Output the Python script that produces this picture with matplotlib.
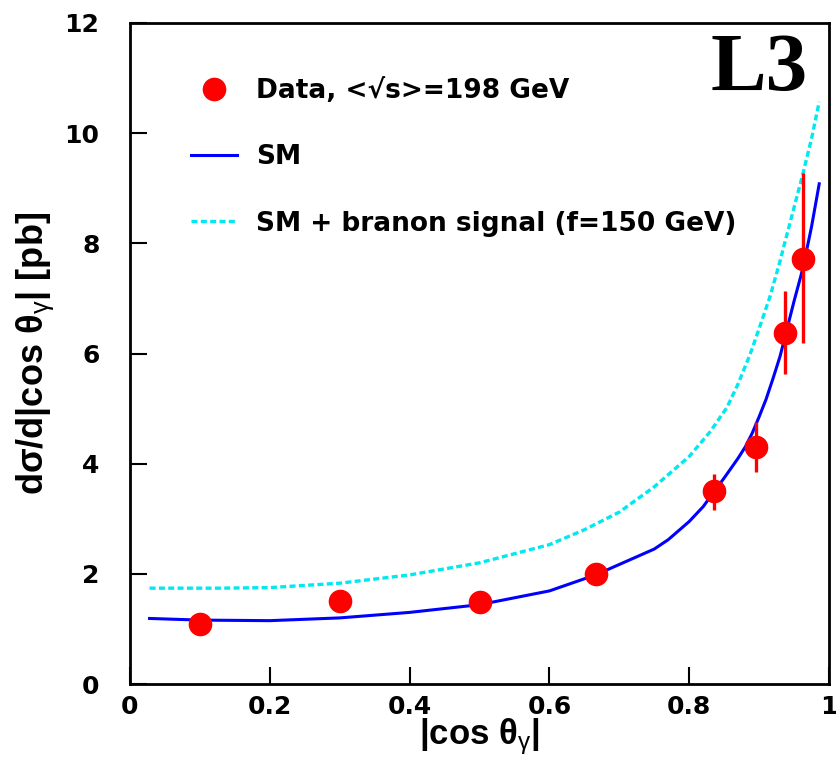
import numpy as np
import matplotlib
matplotlib.use('Agg')
import matplotlib.pyplot as plt

# data points
cos_theta = [0.100, 0.300, 0.500, 0.666, 0.836, 0.896, 0.937, 0.963]
dsigma = [1.09, 1.51, 1.48, 1.99, 3.50, 4.30, 6.38, 7.72]
err_low = [0.12, 0.15, 0.15, 0.18, 0.34, 0.45, 0.75, 1.53]
err_high = [0.12, 0.15, 0.15, 0.18, 0.32, 0.46, 0.75, 1.55]

# SM prediction
sm_x = [0.028, 0.1, 0.2, 0.3, 0.4, 0.5, 0.6, 0.666, 0.7, 0.75, 0.77, 0.8, 0.82,
        0.836, 0.85, 0.87, 0.88, 0.89, 0.9, 0.91, 0.92, 0.93, 0.937, 0.95,
        0.96, 0.966, 0.975, 0.986]
sm_y = [1.19, 1.16, 1.15, 1.20, 1.30, 1.44, 1.69, 1.98, 2.17, 2.45, 2.62, 2.95, 3.22,
        3.50, 3.74, 4.10, 4.30, 4.55, 4.85, 5.17, 5.55, 5.95, 6.30, 6.95,
        7.42, 7.75, 8.30, 9.08]

# SM + branon signal (f=150 GeV)
br_x = [0.028, 0.129, 0.2, 0.3, 0.4, 0.5, 0.6, 0.65, 0.7, 0.75, 0.8, 0.83,
        0.854, 0.87, 0.887, 0.9, 0.916, 0.93, 0.939, 0.95, 0.963, 0.975, 0.986]
br_y = [1.74, 1.74, 1.75, 1.83, 1.98, 2.20, 2.53, 2.80, 3.12, 3.58, 4.13, 4.58,
        5.02, 5.45, 5.98, 6.45, 7.05, 7.68, 8.12, 8.65, 9.28, 9.90, 10.57]

x_ticks = [0, 0.2, 0.4, 0.6, 0.8, 1]
x_ticklabels = ['0', '0.2', '0.4', '0.6', '0.8', '1']
y_ticks = [0, 2, 4, 6, 8, 10, 12]

plt.rcParams['mathtext.fontset'] = 'custom'
plt.rcParams['mathtext.rm'] = 'Liberation Sans'
plt.rcParams['mathtext.it'] = 'Liberation Sans'
plt.rcParams['mathtext.bf'] = 'Liberation Sans:bold'

fig = plt.figure(figsize=(8.36, 7.6), dpi=100)
ax = fig.add_axes([130 / 836, 1 - 684 / 760, 699 / 836, 661 / 760])

ax.plot(sm_x, sm_y, color='#0000ff', lw=2.2, label='SM', zorder=2)
ax.plot(br_x, br_y, color='#00e8f0', lw=2.4, linestyle=(0, (1.8, 1.0)),
        label='SM + branon signal (f=150 GeV)', zorder=2)
ax.errorbar(cos_theta, dsigma, yerr=[err_low, err_high], fmt='none',
            ecolor='#ff0000', elinewidth=2.4, capsize=0, zorder=3)
ax.plot(cos_theta, dsigma, 'o', color='#ff0000', ms=16, zorder=4,
        label='Data, <√s>=198 GeV')

ax.set_xlim(0, 1)
ax.set_ylim(0, 12)
ax.set_xticks(x_ticks)
ax.set_xticklabels(x_ticklabels)
ax.set_yticks(y_ticks)
ax.tick_params(direction='in', length=12.2, width=1.5, top=False, right=False,
               labelsize=18)
ax.tick_params(axis='x', pad=8)
ax.tick_params(axis='y', pad=22)
for lab in ax.get_xticklabels() + ax.get_yticklabels():
    lab.set_fontweight('bold')
for s in ax.spines.values():
    s.set_linewidth(2)

ax.set_xlabel('|cos θ$_{\\gamma}$|', fontsize=25, fontweight='bold',
              family='Liberation Sans', labelpad=-2)
ax.set_ylabel('dσ/d|cos θ$_{\\gamma}$| [pb]', fontsize=26, fontweight='bold',
              family='Liberation Sans', labelpad=6)

ax.text(0.97, 0.8986, 'L3', transform=ax.transAxes, ha='right', va='baseline',
        fontsize=60, fontweight='bold', family='Liberation Serif')

handles, labels = ax.get_legend_handles_labels()
order = [2, 0, 1]
leg = ax.legend([handles[i] for i in order], [labels[i] for i in order],
                loc='upper left', bbox_to_anchor=(0.0873, 0.917),
                frameon=False, borderpad=0, borderaxespad=0,
                handlelength=1.74, handletextpad=0.72, labelspacing=1.53,
                prop={'size': 19, 'weight': 'bold'})

fig.savefig('out.png', dpi=100)
